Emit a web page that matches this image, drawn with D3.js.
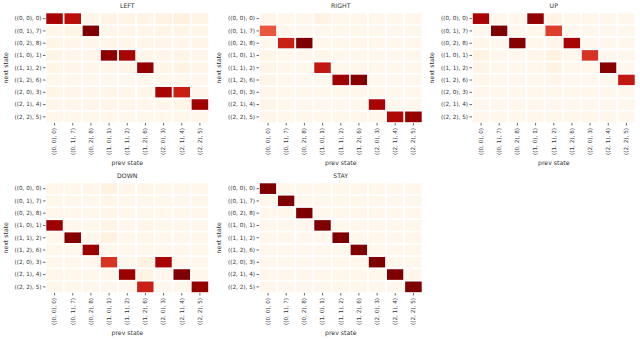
<!DOCTYPE html>
<html>
<head>
<meta charset="utf-8">
<script src="https://cdn.jsdelivr.net/npm/d3@7"></script>
<style>
  body { margin: 0; background: #fff; }
  svg { display: block; }
  .axis text { font-family: "DejaVu Sans", sans-serif; font-size: 5.7px; fill: #333; }
  .axis line { stroke: #444; stroke-width: 0.8; }
  .axis path { display: none; }
  .lbl { font-family: "DejaVu Sans", sans-serif; font-size: 6.2px; fill: #333; }
</style>
</head>
<body>
<script>
// state labels (same for rows = next state, cols = prev state)
var states = ["((0, 0), 0)", "((0, 1), 7)", "((0, 2), 8)", "((1, 0), 1)", "((1, 1), 2)",
              "((1, 2), 6)", "((2, 0), 3)", "((2, 1), 4)", "((2, 2), 5)"];

var panelNames = ["LEFT", "RIGHT", "UP", "DOWN", "STAY"];

// rows: next state, cols: prev state
var leftVals = [
  [0.90, 0.85, 0.02, 0.03, 0.03, 0.03, 0.04, 0.06, 0.03],
  [0.02, 0.03, 1.00, 0.02, 0.02, 0.02, 0.03, 0.03, 0.02],
  [0.02, 0.02, 0.02, 0.02, 0.02, 0.02, 0.02, 0.02, 0.02],
  [0.03, 0.02, 0.02, 0.97, 0.90, 0.02, 0.02, 0.03, 0.02],
  [0.02, 0.02, 0.02, 0.02, 0.03, 0.95, 0.03, 0.04, 0.02],
  [0.01, 0.01, 0.01, 0.01, 0.01, 0.01, 0.01, 0.01, 0.01],
  [0.02, 0.02, 0.02, 0.02, 0.02, 0.02, 0.90, 0.80, 0.02],
  [0.02, 0.02, 0.02, 0.02, 0.02, 0.02, 0.02, 0.03, 0.92],
  [0.01, 0.01, 0.01, 0.01, 0.01, 0.01, 0.01, 0.01, 0.01]
];
var rightVals = [
  [0.03, 0.02, 0.02, 0.05, 0.02, 0.02, 0.02, 0.02, 0.02],
  [0.66, 0.02, 0.02, 0.02, 0.02, 0.02, 0.02, 0.02, 0.02],
  [0.02, 0.80, 1.00, 0.02, 0.02, 0.02, 0.02, 0.02, 0.02],
  [0.04, 0.02, 0.02, 0.03, 0.02, 0.02, 0.02, 0.02, 0.02],
  [0.04, 0.02, 0.02, 0.82, 0.02, 0.02, 0.02, 0.02, 0.02],
  [0.04, 0.02, 0.02, 0.02, 0.92, 0.98, 0.02, 0.02, 0.02],
  [0.03, 0.02, 0.02, 0.02, 0.02, 0.02, 0.02, 0.02, 0.02],
  [0.04, 0.02, 0.02, 0.02, 0.02, 0.02, 0.90, 0.02, 0.02],
  [0.03, 0.02, 0.02, 0.02, 0.02, 0.02, 0.02, 0.88, 0.95]
];
var upVals = [
  [0.90, 0.02, 0.02, 0.95, 0.04, 0.02, 0.02, 0.02, 0.02],
  [0.02, 1.00, 0.02, 0.02, 0.72, 0.02, 0.02, 0.02, 0.02],
  [0.03, 0.02, 0.98, 0.02, 0.03, 0.90, 0.02, 0.02, 0.02],
  [0.06, 0.02, 0.02, 0.03, 0.06, 0.02, 0.75, 0.02, 0.02],
  [0.04, 0.02, 0.02, 0.02, 0.05, 0.02, 0.02, 0.98, 0.02],
  [0.03, 0.02, 0.02, 0.02, 0.03, 0.02, 0.02, 0.02, 0.82],
  [0.02, 0.02, 0.02, 0.02, 0.02, 0.02, 0.02, 0.02, 0.02],
  [0.02, 0.02, 0.02, 0.02, 0.02, 0.02, 0.02, 0.02, 0.02],
  [0.02, 0.02, 0.02, 0.02, 0.02, 0.02, 0.02, 0.02, 0.02]
];
var downVals = [
  [0.02, 0.02, 0.03, 0.06, 0.03, 0.03, 0.02, 0.02, 0.02],
  [0.02, 0.02, 0.02, 0.03, 0.02, 0.02, 0.02, 0.02, 0.02],
  [0.02, 0.02, 0.02, 0.03, 0.02, 0.02, 0.02, 0.02, 0.02],
  [0.93, 0.02, 0.02, 0.05, 0.02, 0.03, 0.02, 0.02, 0.02],
  [0.02, 0.98, 0.02, 0.06, 0.02, 0.03, 0.02, 0.02, 0.02],
  [0.02, 0.02, 0.93, 0.02, 0.02, 0.02, 0.02, 0.02, 0.02],
  [0.02, 0.02, 0.02, 0.75, 0.02, 0.06, 0.90, 0.02, 0.02],
  [0.02, 0.02, 0.02, 0.02, 0.93, 0.05, 0.02, 1.00, 0.02],
  [0.02, 0.02, 0.02, 0.02, 0.02, 0.80, 0.02, 0.02, 0.95]
];
var stayVals = [
  [1, 0, 0, 0, 0, 0, 0, 0, 0],
  [0, 1, 0, 0, 0, 0, 0, 0, 0],
  [0, 0, 1, 0, 0, 0, 0, 0, 0],
  [0, 0, 0, 1, 0, 0, 0, 0, 0],
  [0, 0, 0, 0, 1, 0, 0, 0, 0],
  [0, 0, 0, 0, 0, 1, 0, 0, 0],
  [0, 0, 0, 0, 0, 0, 1, 0, 0],
  [0, 0, 0, 0, 0, 0, 0, 1, 0],
  [0, 0, 0, 0, 0, 0, 0, 0, 1]
];
var panelVals = [leftVals, rightVals, upVals, downVals, stayVals];

var W = 640, H = 340;
var gridW = 163.5, gridH = 110.5;
var colX = [45.5, 259, 472],
    rowY = [12.5, 182.5];

var svg = d3.select("body").append("svg")
    .attr("width", W)
    .attr("height", H);

panelNames.forEach(function (name, p) {
    var ox = colX[p % 3],
        oy = rowY[Math.floor(p / 3)],
        vals = panelVals[p];

    var flat = d3.merge(vals);
    var color = d3.scaleSequential(d3.interpolateOrRd)
                  .domain([d3.min(flat), d3.max(flat)]);

    var x = d3.scaleBand().domain(states).range([0, gridW]);
    var y = d3.scaleBand().domain(states).range([0, gridH]);

    var g = svg.append("g").attr("transform", "translate(" + ox + "," + oy + ")");

    var cells = [];
    vals.forEach(function (row, i) {
        row.forEach(function (v, j) {
            cells.push({ next: states[i], prev: states[j], v: v });
        });
    });

    g.selectAll("rect")
        .data(cells)
        .enter()
        .append("rect")
        .attr("x", function (d) { return x(d.prev); })
        .attr("y", function (d) { return y(d.next); })
        .attr("width", x.bandwidth())
        .attr("height", y.bandwidth())
        .attr("fill", function (d) { return color(d.v); })
        .attr("stroke", "#fff")
        .attr("stroke-width", 1.6);

    // y axis
    g.append("g")
        .attr("class", "axis")
        .call(d3.axisLeft(y).tickSize(2.5).tickPadding(1.5));

    // x axis, rotated labels
    g.append("g")
        .attr("class", "axis")
        .attr("transform", "translate(0," + gridH + ")")
        .call(d3.axisBottom(x).tickSize(2.5).tickPadding(1.5))
        .selectAll("text")
        .attr("transform", "rotate(-90)")
        .attr("text-anchor", "end")
        .attr("x", -5)
        .attr("y", 0)
        .attr("dy", "0.32em");

    g.append("text")
        .attr("class", "lbl")
        .attr("x", gridW / 2)
        .attr("y", -4.5)
        .attr("text-anchor", "middle")
        .text(name);

    g.append("text")
        .attr("class", "lbl")
        .attr("x", gridW / 2)
        .attr("y", gridH + 42)
        .attr("text-anchor", "middle")
        .text("prev state");

    g.append("text")
        .attr("class", "lbl")
        .attr("transform", "translate(-38," + (gridH / 2) + ") rotate(-90)")
        .attr("text-anchor", "middle")
        .text("next state");
});
</script>
</body>
</html>
